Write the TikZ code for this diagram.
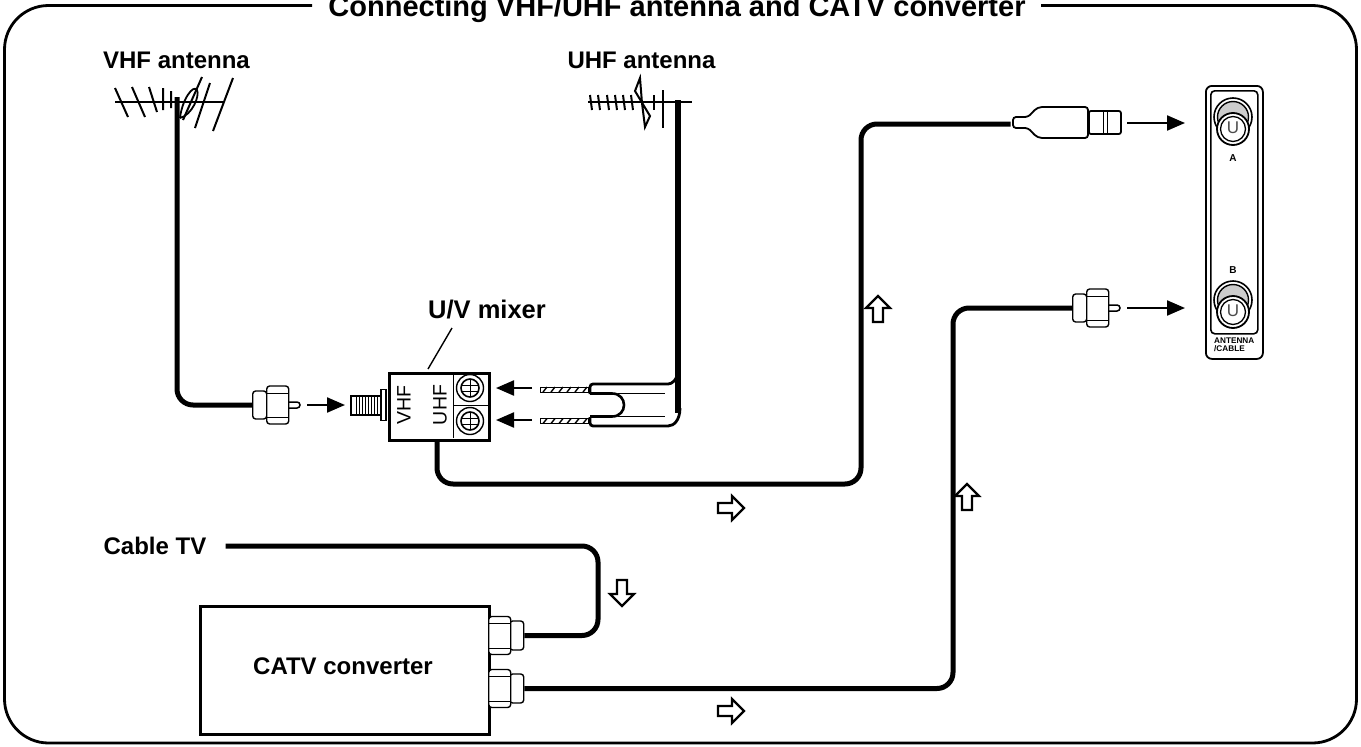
\documentclass[tikz,border=0pt]{standalone}
\usepackage{fontspec}
\setmainfont{Liberation Sans}
\usetikzlibrary{arrows.meta}
\tikzset{
  cable/.style={line width=5pt,rounded corners=16pt},
  thinl/.style={line width=1pt},
  med/.style={line width=1.5pt},
  frameline/.style={line width=2.8pt},
  pusharrow/.style={line width=2.2pt,-{Triangle[length=18pt,width=15pt]}},
  hollow/.style={line width=2.2pt,line join=miter,fill=white},
  lab/.style={font=\bfseries\fontsize{24}{24}\selectfont,inner sep=0pt},
  plugb/.style={draw,line width=1.4pt,rounded corners=3pt,fill=white,inner sep=0pt,minimum width=14pt},
  plugh/.style={draw,line width=1.4pt,rounded corners=3pt,fill=white,inner sep=0pt,minimum width=22pt,minimum height=38pt},
  panellab/.style={font=\bfseries\fontsize{8.2}{9}\selectfont,inner sep=0pt,align=left},
  portl/.style={font=\fontsize{19.5}{20}\selectfont,inner sep=0pt,rotate=90},
  hatchpin/.style={draw,line width=1pt,fill=white,inner sep=0pt,minimum width=48pt,minimum height=5pt},
}
% hollow arrow: centre, rotation
\newcommand{\hollowarrow}[3]{\draw[hollow,shift={(#1,#2)},rotate=#3] (-13,-5) -- (1,-5) -- (1,-12) -- (13,0) -- (1,12) -- (1,5) -- (-13,5) -- cycle;}
% F plug facing right: name, x of body left, y
\newcommand{\fplug}[3]{%
  \draw[med,rounded corners=3pt,fill=white] (#2+34,#3-3) -- (#2+48,#3-3) -- (#2+48,#3+3) -- (#2+34,#3+3);
  \node[plugb,minimum height=28pt,anchor=west] (#1) at (#2,#3) {};
  \node[plugh,anchor=west] (#1h) at (#2+14,#3) {};
  \draw[thinl] (#2+14,#3-12) -- (#2+36,#3-12) (#2+14,#3+12) -- (#2+36,#3+12);
}
% converter connector: name, y
\newcommand{\cconn}[2]{%
  \node[plugb,minimum height=29pt,anchor=west] (#1) at (509,#2) {};
  \node[plugh,anchor=west] (#1h) at (488,#2) {};
  \draw[med] (488,#2-12) -- (510,#2-12) (488,#2+13) -- (510,#2+13);
}
\newcommand{\scr}[3]{%
  \node[circle,draw,line width=1.4pt,minimum size=27pt,inner sep=0pt] (#1) at (#2,#3) {};
  \node[circle,draw,line width=1.6pt,minimum size=18pt,inner sep=0pt] (#1i) at (#2,#3) {};
  \draw[thinl] (#2-9,#3-3) -- (#2+9,#3-3) (#2-9,#3+3) -- (#2+9,#3+3) (#2,#3-9) -- (#2,#3+9);
}
\newcommand{\jack}[4]{%
  \draw[line width=1.6pt,fill=white] (#2,#3) circle (19pt);
  \draw[line width=1.4pt,fill=white!80!black] (#2,#3) circle (15.5pt);
  \draw[line width=1.8pt,fill=white] (#2,#4) circle (16pt);
  \draw[line width=1.3pt] (#2,#4) circle (12.5pt);
  \node[font=\fontsize{17}{17}\selectfont,inner sep=0pt,gray!60!black] (#1) at (#2,#4-1) {U};
}
\begin{document}
\begin{tikzpicture}[x=1pt,y=-1pt]
\useasboundingbox (0,0) rectangle (1361,747);
\fill[white] (0,0) rectangle (1361,747);
% frame
\draw[frameline,rounded corners=44pt] (312,5.5) -- (4.5,5.5) -- (4.5,743) -- (1356.5,743) -- (1356.5,5.5) -- (1041,5.5);
\node[font=\bfseries\fontsize{29}{29}\selectfont,inner sep=0pt,anchor=base] (title) at (677,16) {Connecting VHF/UHF antenna and CATV converter};
% labels
\node[lab] (vhflab) at (176.5,60) {VHF antenna};
\node[lab] (uhflab) at (641.5,60) {UHF antenna};
\node[lab,font=\bfseries\fontsize{25.5}{25.5}\selectfont] (mixlab) at (487,310) {U/V mixer};
\node[lab] (catvin) at (155,546) {Cable TV};
% VHF antenna
\coordinate (vhftop) at (177,97);
\draw[line width=1.8pt] (115,102) -- (223,102);
\draw[line width=2pt] (115,88) -- (128,117) (132,87) -- (145,117) (149,87) -- (157,112) (163,88) -- (163,110) (171,91) -- (171,108) (202,77) -- (183,120) (210,83) -- (195,128) (233,78) -- (213,131);
\draw[line width=1.8pt] (180,118) .. controls (182,100) and (193,84) .. (197,90) .. controls (200,96) and (192,115) .. (180,118);
% UHF antenna
\coordinate (uhftop) at (678,100);
\draw[line width=1.8pt] (588,102) -- (692,102);
\foreach \xx in {590,598,607,615,623,631} \draw[line width=2pt] (\xx,95) -- (\xx+2,110);
\draw[line width=2pt] (640,78) -- (635,91) -- (650,116) -- (645,127) -- (642,103) -- cycle;
\draw[line width=2pt] (654,95) -- (654,110) (663,90) -- (663,128);
% twin lead and pins
\node[hatchpin,anchor=west] (pinu) at (540,389.5) {};
\node[hatchpin,anchor=west] (pinl) at (540,421) {};
\foreach \yy in {389.5,421} \foreach \xx in {543,551,...,583} \draw[line width=1.4pt] (\xx,\yy+2.5) -- (\xx+4,\yy-2.5);
\draw[line width=2.8pt,rounded corners=3pt] (590,394) -- (590,384) -- (665,384) .. controls (672,384) and (677,380) .. (678,372);
\draw[line width=2.8pt,rounded corners=3pt] (590,417) -- (590,426) -- (665,426) .. controls (674,426) and (680,420) .. (680,408);
\draw[line width=2.6pt] (590,393.5) -- (612,393.5) .. controls (628,393.5) and (628,416.5) .. (612,416.5) -- (590,416.5);
\draw[thinl] (618,393.5) -- (665,393.5) (618,416.5) -- (665,416.5);
\draw[line width=5.5pt] (uhftop) -- (678,413);
\draw[pusharrow] (pinu.west) ++(-8,-1.5) -- ++(-36,0);
\draw[pusharrow] (pinl.west) ++(-8,-1) -- ++(-36,0);
% mixer
\node[draw,line width=3.4pt,minimum width=100pt,minimum height=67pt,inner sep=0pt,anchor=north west] (mixer) at (388,371.5) {};
\draw[thinl] (453,372) -- (453,438) (453,405) -- (488,405);
\scr{scra}{470}{388}
\scr{scrb}{470}{421}
\node[portl] (vhfp) at (404,405) {VHF};
\node[portl] (uhfp) at (440,405) {UHF};
\draw[line width=1.4pt] (428,369) -- (452,328);
\node[draw,line width=1.6pt,fill=white,minimum width=5pt,minimum height=31pt,inner sep=0pt,anchor=east] (mflange) at (387,405) {};
\node[draw,line width=2pt,fill=white,minimum width=30pt,minimum height=19pt,inner sep=0pt,anchor=east] (mstud) at (382,405) {};
\foreach \xx in {356,359,...,380} \draw[line width=1pt] (\xx,396) -- (\xx,414);
% VHF plug
\fplug{vhfplug}{252}{405}
\draw[cable] (vhftop) |- (vhfplug.west);
\coordinate (vhfa) at (307,405); \coordinate (vhfb) at (345,405);
\draw[pusharrow] (vhfa) -- (vhfb);
% mixer to RCA
\node[plugb,draw=none,minimum width=1pt,minimum height=1pt,anchor=east] (rcain) at (1013,123) {};
\coordinate (mout) at (437,440);
\draw[cable] (mout) |- (861,484) -- (861,124) -- (rcain.west |- 861,124);
\draw[line width=1.8pt,fill=white,rounded corners=3pt] (1013,117) -- (1028,117) .. controls (1032,113) and (1036,107) .. (1045,107) -- (1088,107) -- (1088,138) -- (1045,138) .. controls (1036,138) and (1032,132) .. (1028,128) -- (1013,128) -- cycle;
\node[draw,line width=1.8pt,rounded corners=2pt,minimum width=32pt,minimum height=23pt,inner sep=0pt,anchor=west] (rcatip) at (1088,122.5) {};
\draw[thinl] (1103,111) -- (1103,134) (1107,111) -- (1107,134);
\coordinate (aa) at (1127,123); \coordinate (ab) at (1185,123);
\draw[pusharrow] (aa) -- (ab);
% plug B
\fplug{bplug}{1072}{308}
\coordinate (ba) at (1127,308); \coordinate (bb) at (1185,308);
\draw[pusharrow] (ba) -- (bb);
% panel
\node[draw,line width=1.8pt,rounded corners=6pt,minimum width=57pt,minimum height=273pt,inner sep=0pt,anchor=north west] (panel) at (1205,85) {};
\node[draw,line width=1.6pt,rounded corners=4pt,minimum width=47pt,minimum height=243pt,inner sep=0pt,anchor=north west] (paneli) at (1210,90) {};
\jack{ja}{1233}{117}{129}
\jack{jb}{1233}{300}{312}
\node[panellab,font=\bfseries\fontsize{10}{10}\selectfont] (la) at (1233,158) {A};
\node[panellab,font=\bfseries\fontsize{10}{10}\selectfont] (lb) at (1233,270) {B};
\node[panellab,anchor=north west] (lc) at (1214,338) {ANTENNA\\[-1.2pt]/CABLE};
% converter
\node[draw,line width=3pt,minimum width=289pt,minimum height=128pt,inner sep=0pt,anchor=north west] (conv) at (199,605) {};
\node[lab] (convlab) at (343,666) {CATV converter};
\cconn{cc}{635.5}
\cconn{cd}{688.5}
\draw[cable] (catvin.east) ++(19,0) -| (598,635.5) -- (cc.east);
\draw[cable] (cd.east) -- (953,688.5) -- (953,308) -- (bplug.west);
% hollow arrows
\hollowarrow{731}{508}{0}
\hollowarrow{878}{309}{90}
\hollowarrow{622}{593}{-90}
\hollowarrow{967}{497}{90}
\hollowarrow{731}{711}{0}
\end{tikzpicture}
\end{document}
